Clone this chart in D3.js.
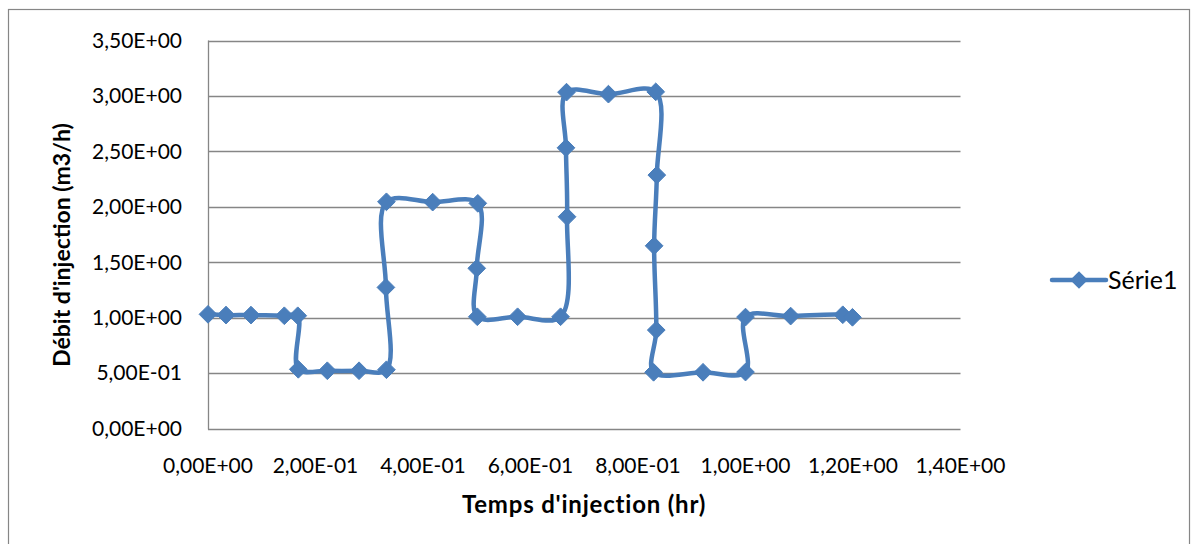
<!DOCTYPE html>
<html>
<head>
<meta charset="utf-8">
<script src="https://cdn.jsdelivr.net/npm/d3@7.9.0/dist/d3.min.js"></script>
<style>
  html, body { margin: 0; padding: 0; background: #fff; }
  svg { display: block; font-family: Lato, "Liberation Sans", sans-serif; }
</style>
</head>
<body>
<svg id="chart" width="1200" height="544"></svg>
<script>
// temps d'injection (hr)
const temps = [
  0, 0.0335, 0.080, 0.142, 0.167, 0.168, 0.222, 0.281, 0.332, 0.331, 0.332,
  0.418, 0.502, 0.500, 0.501, 0.576, 0.656, 0.668, 0.666, 0.667, 0.745,
  0.833, 0.835, 0.830, 0.834, 0.829, 0.921, 1.000, 1.000, 1.084, 1.181, 1.199
];
// débit d'injection (m3/h)
const debit = [
  1.03, 1.023, 1.023, 1.017, 1.017, 0.534, 0.521, 0.521, 0.530, 1.273, 2.045,
  2.042, 2.031, 1.445, 1.008, 1.008, 1.008, 1.91, 2.532, 3.034, 3.016,
  3.037, 2.286, 1.648, 0.888, 0.507, 0.507, 0.509, 1.005, 1.014, 1.026, 1.003
];
const xTicks = [0, 0.2, 0.4, 0.6, 0.8, 1.0, 1.2, 1.4];
const yTicks = [0, 0.5, 1.0, 1.5, 2.0, 2.5, 3.0, 3.5];
const seriesName = "Série1";

const blue = "#4a7ebb";
const grid = "#868686";

const svg = d3.select("#chart");
const plotLeft = 208, plotRight = 960.5, plotTop = 40.5, plotBottom = 428.5;

const x = d3.scaleLinear().domain([0, 1.4]).range([plotLeft, plotRight]);
const y = d3.scaleLinear().domain([0, 3.5]).range([plotBottom, plotTop]);

// format like Excel "0,00E+00"
function sci(v) {
  if (v === 0) return "0,00E+00";
  let e = Math.floor(Math.log10(Math.abs(v)) + 1e-9);
  let m = v / Math.pow(10, e);
  let es = (e < 0 ? "-" : "+") + String(Math.abs(e)).padStart(2, "0");
  return m.toFixed(2).replace(".", ",") + "E" + es;
}

// outer border
svg.append("rect")
  .attr("x", 8.5).attr("y", 9.5)
  .attr("width", 1181).attr("height", 540)
  .attr("fill", "none").attr("stroke", grid).attr("stroke-width", 1.2);

// gridlines
svg.append("g")
  .selectAll("line")
  .data(yTicks)
  .join("line")
  .attr("x1", plotLeft).attr("x2", plotRight)
  .attr("y1", (d) => Math.round(y(d)) + 0.5)
  .attr("y2", (d) => Math.round(y(d)) + 0.5)
  .attr("stroke", grid).attr("stroke-width", 1.3);

// y axis line
svg.append("line")
  .attr("x1", plotLeft + 0.5).attr("x2", plotLeft + 0.5)
  .attr("y1", plotTop).attr("y2", plotBottom + 1)
  .attr("stroke", grid).attr("stroke-width", 1.3);

// y tick labels
svg.append("g")
  .selectAll("text")
  .data(yTicks)
  .join("text")
  .attr("x", 182)
  .attr("y", (d) => y(d))
  .attr("dy", "0.35em")
  .attr("text-anchor", "end")
  .attr("font-size", 21)
  .attr("fill", "#000")
  .text(sci);

// x tick labels
svg.append("g")
  .selectAll("text")
  .data(xTicks)
  .join("text")
  .attr("x", (d) => x(d))
  .attr("y", 466)
  .attr("dy", "0.35em")
  .attr("text-anchor", "middle")
  .attr("font-size", 21)
  .attr("fill", "#000")
  .text(sci);

// axis titles
svg.append("text")
  .attr("x", 584).attr("y", 505)
  .attr("dy", "0.35em")
  .attr("text-anchor", "middle")
  .attr("font-size", 24)
  .attr("letter-spacing", 0.8)
  .attr("font-weight", "bold")
  .text("Temps d'injection (hr)");

svg.append("text")
  .attr("transform", "translate(62,245) rotate(-90)")
  .attr("dy", "0.35em")
  .attr("text-anchor", "middle")
  .attr("font-size", 23)
  .attr("font-weight", "bold")
  .text("Débit d'injection (m3/h)");

// series
const pts = temps.map((t, i) => [t, debit[i]]);
const line = d3.line()
  .x((d) => x(d[0]))
  .y((d) => y(d[1]))
  .curve(d3.curveCatmullRom.alpha(0.5));

svg.append("path")
  .attr("d", line(pts))
  .attr("fill", "none")
  .attr("stroke", blue)
  .attr("stroke-width", 4.5)
  .attr("stroke-linejoin", "round")
  .attr("stroke-linecap", "round");

const diamond = d3.symbol().type(d3.symbolDiamond2).size(200);
svg.append("g")
  .selectAll("path")
  .data(pts)
  .join("path")
  .attr("transform", (d) => `translate(${x(d[0])},${y(d[1])})`)
  .attr("d", diamond())
  .attr("fill", blue)
  .attr("stroke", blue)
  .attr("stroke-width", 1);

// legend
const lg = svg.append("g").attr("transform", "translate(1052,280)");
lg.append("line")
  .attr("x1", 0).attr("x2", 54)
  .attr("stroke", blue).attr("stroke-width", 4.5)
  .attr("stroke-linecap", "round");
lg.append("path")
  .attr("transform", "translate(27,0)")
  .attr("d", d3.symbol().type(d3.symbolDiamond2).size(200)())
  .attr("fill", blue);
lg.append("text")
  .attr("x", 56).attr("y", 0)
  .attr("dy", "0.35em")
  .attr("font-size", 25)
  .text(seriesName);
</script>
</body>
</html>
